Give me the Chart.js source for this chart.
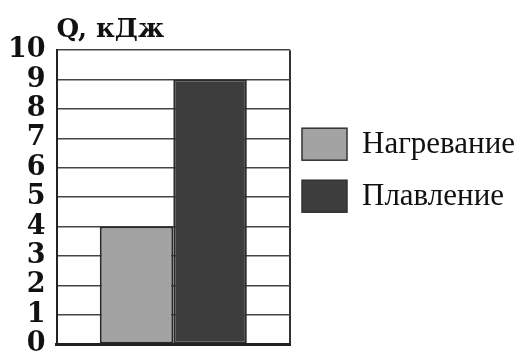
<!DOCTYPE html>
<html>
<head>
<meta charset="utf-8">
<script src="https://cdn.jsdelivr.net/npm/chart.js@4/dist/chart.umd.min.js"></script>
<style>
    html, body { margin: 0; padding: 0; background: #ffffff; }
    #wrap { width: 524px; height: 359px; }
</style>
</head>
<body>
<div id="wrap"><canvas id="heatGraph"></canvas></div>
<script>
let categories = [''];
let seriesNames = ['Нагревание', 'Плавление'];
let heating = [4];
let melting = [9];
let yTicks = [0, 1, 2, 3, 4, 5, 6, 7, 8, 9, 10];

// legend on the right side, drawn by hand so it can be wider than
// the built-in layout allows
let sideLegend = {
    id: 'sideLegend',
    afterDraw: function (chart) {
        let ctx = chart.ctx;
        let area = chart.chartArea;
        let x = area.right + 12;
        let y = area.top + 78;
        ctx.save();
        ctx.font = '31px "Liberation Serif"';
        ctx.textBaseline = 'middle';
        ctx.textAlign = 'left';
        chart.data.datasets.forEach(function (ds, i) {
            let top = y + i * 52;
            ctx.fillStyle = ds.backgroundColor;
            ctx.fillRect(x, top, 45, 32);
            ctx.strokeStyle = '#333';
            ctx.lineWidth = 1.5;
            ctx.strokeRect(x, top, 45, 32);
            ctx.fillStyle = '#111';
            ctx.fillText(ds.label, x + 60, top + 17);
        });
        ctx.restore();
    }
};

function DrawChart() {
    var context = document.getElementById('heatGraph');

    let config = {
        type: 'bar',
        data: {
            labels: categories,
            datasets: [{
                label: seriesNames[0],
                data: heating,
                backgroundColor: '#a3a3a3',
                borderColor: '#2b2b2b',
                borderWidth: 2,
                borderSkipped: false
            }, {
                label: seriesNames[1],
                data: melting,
                backgroundColor: '#3d3d3d',
                borderColor: '#2b2b2b',
                borderWidth: 2,
                borderSkipped: false
            }]
        },
        options: {
            responsive: false,
            animation: {
                duration: 0
            },
            layout: {
                padding: { top: 0, bottom: 0, left: 8, right: 234 }
            },
            datasets: {
                bar: {
                    categoryPercentage: 0.63,
                    barPercentage: 1
                }
            },
            plugins: {
                title: {
                    display: true,
                    text: 'Q, кДж',
                    align: 'start',
                    fullSize: false,
                    color: '#111',
                    font: { family: 'DejaVu Serif', weight: 'bold', size: 26 },
                    padding: { top: 15, bottom: 4 }
                },
                legend: { display: false },
                tooltip: { enabled: false }
            },
            scales: {
                x: {
                    ticks: { display: false },
                    grid: {
                        color: '#333',
                        lineWidth: 2,
                        drawTicks: false,
                        offset: true
                    },
                    border: { color: '#222', width: 3 }
                },
                y: {
                    min: 0,
                    max: 10,
                    afterBuildTicks: function (axis) {
                        axis.ticks = yTicks.map(function (v) { return { value: v }; });
                    },
                    ticks: {
                        color: '#111',
                        padding: 0,
                        autoSkip: false,
                        font: { family: 'DejaVu Serif', weight: 'bold', size: 27, lineHeight: 1.1 }
                    },
                    // invisible tick marks keep the gap between numbers and the axis
                    grid: {
                        color: '#444',
                        lineWidth: 1.5,
                        drawTicks: true,
                        tickLength: 11,
                        tickColor: 'rgba(0,0,0,0)'
                    },
                    border: { color: '#222', width: 2 }
                }
            }
        },
        plugins: [sideLegend]
    };
    let c = new Chart(context, config);
}

var cv = document.getElementById('heatGraph');
cv.width = 524;
cv.height = 359;
DrawChart();
</script>
</body>
</html>
